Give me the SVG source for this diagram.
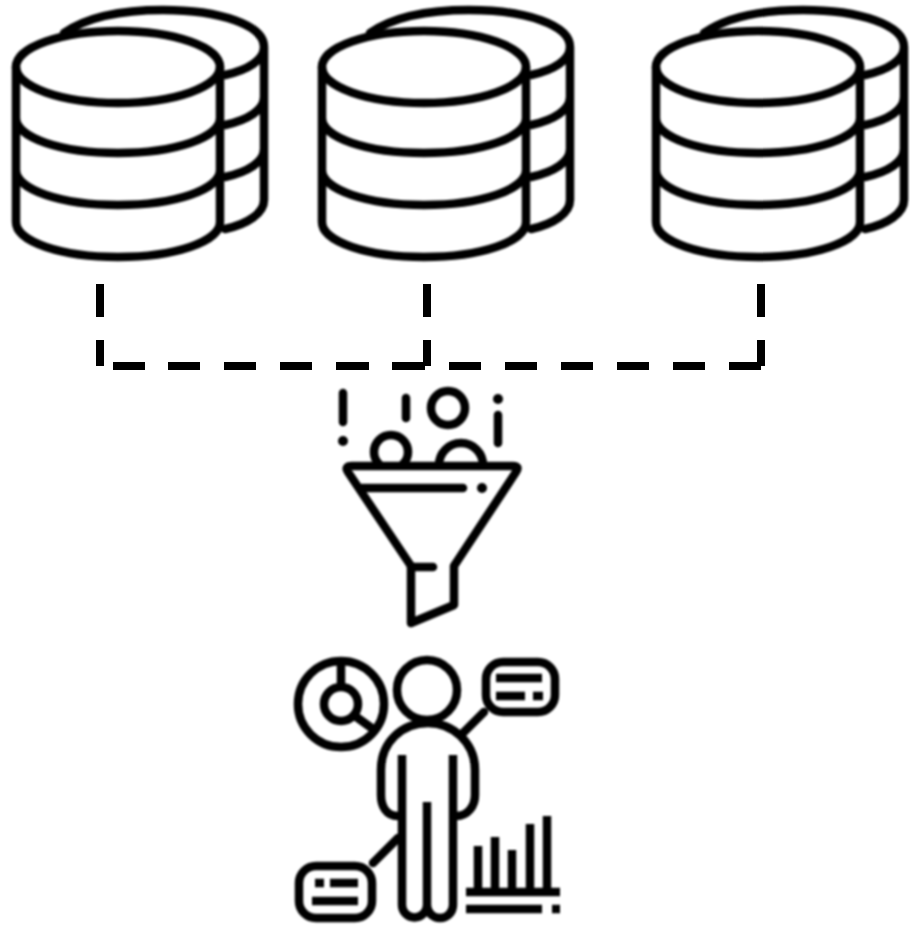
<svg xmlns="http://www.w3.org/2000/svg" width="910" height="925" viewBox="0 0 910 925">
<style>
.i{fill:none;stroke:#000;stroke-width:8.5;stroke-linecap:round;stroke-linejoin:round}
.b{fill:none;stroke:#000;stroke-width:8.5;stroke-linecap:butt}
.d{fill:none;stroke:#000;stroke-width:8;stroke-linecap:butt;stroke-linejoin:miter}
.s{fill:#000}
</style>
<defs>
<filter id="soft" x="-5%" y="-5%" width="110%" height="110%"><feGaussianBlur stdDeviation="0.8"/></filter>
<g id="db">
<path class="i" d="M64 33C87 17 122 10 163 10C220 10 264 25 264 47V200C264 213 248 224 225 229M225 75C248 70 264 60 264 47M225 125C248 120 264 110 264 97M225 177C248 172 264 162 264 149"/>
<ellipse class="i" cx="118" cy="67" rx="102" ry="36"/>
<path class="i" d="M16 67V222C16 242 62 257 118 257C174 257 220 242 220 222V67M16 118C16 138 62 153 118 153C174 153 220 138 220 118M16 170C16 190 62 205 118 205C174 205 220 190 220 170"/>
</g>
</defs>
<g id="connectors">
<path class="d" d="M100 284V317M100 340V366"/>
<path class="d" d="M427 284V317M427 340V366"/>
<path class="d" d="M761 284V317M761 340V366"/>
<path class="d" d="M113 366H145M168 366H200M224 366H256M280 366H312M336 366H369M392 366H425M449 366H481M505 366H537M561 366H593M617 366H649M673 366H705M729 366H761"/>
</g>
<g id="database-1" filter="url(#soft)"><use href="#db"/></g>
<g id="database-2" filter="url(#soft)"><use href="#db" x="306"/></g>
<g id="database-3" filter="url(#soft)"><use href="#db" x="640"/></g>
<g id="funnel" filter="url(#soft)">
<path class="i" d="M343 393V422M406 398V418M498 415V443M362 488H463M411 567H433"/>
<circle class="s" cx="343" cy="441" r="5"/>
<circle class="s" cx="498" cy="399" r="5"/>
<circle class="s" cx="482" cy="488" r="5"/>
<circle class="i" cx="448" cy="408" r="17"/>
<path class="i" d="M379 464A17 17 0 1 1 403 464M439 465A22 22 0 0 1 483 465"/>
<path class="i" d="M352 466H513Q520 466 516 472L454 566V605L411 623V566L348 472Q344 466 352 466Z"/>
</g>
<g id="analyst" filter="url(#soft)">
<circle class="i" cx="427" cy="690" r="30"/>
<circle class="i" cx="341" cy="704" r="43"/>
<circle class="i" cx="341" cy="704" r="17"/>
<path class="i" d="M341 662V686M355 716L373 729M484 712L463 733M373 863L398 838"/>
<rect class="i" x="486" y="662" width="69" height="50" rx="17"/>
<rect class="i" x="299" y="866" width="73" height="52" rx="17"/>
<path class="i" d="M398 816C386 816 381 806 381 795V770C381 742 402 723 428 723C452 723 475 742 475 770V795C475 806 468 816 456 816"/>
<path class="i" style="stroke-linecap:butt" d="M402 755V905A12.5 12.5 0 0 0 427 905V802M427 905A13 13 0 0 0 453 905V755"/>
<path class="b" d="M496 678H542M496 696H525M533 696H543M315 883H324M330 883H358M312 901H358M478 892V846M495 892V837M512 892V850M530 892V824M547 892V816M466 892H560M466 909H542M552 909H560"/>
</g>
</svg>
